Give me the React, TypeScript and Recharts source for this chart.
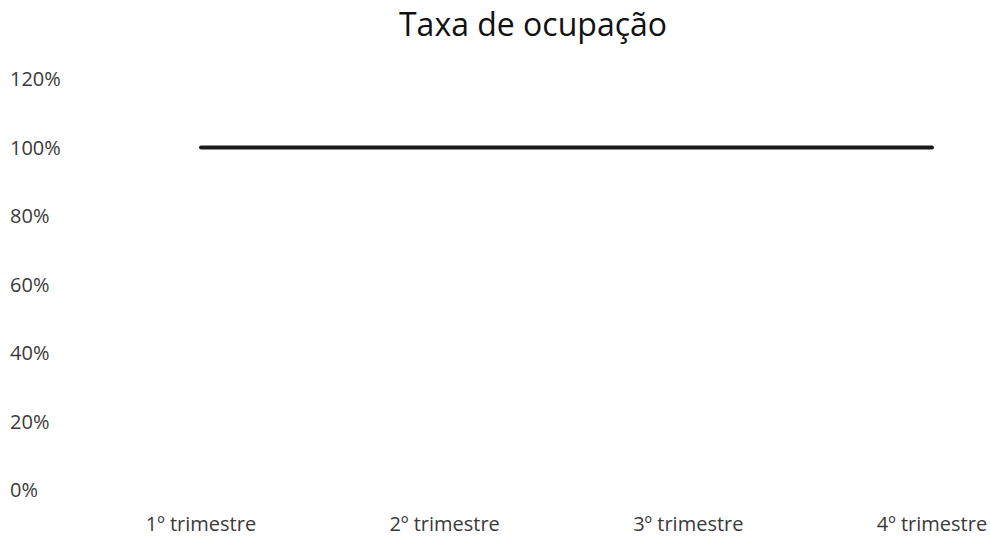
import { Line, LineChart, XAxis, YAxis } from "recharts";

const quarters = ["1º trimestre", "2º trimestre", "3º trimestre", "4º trimestre"];
const occupancy = [100, 100, 100, 100];
const yTicks = [0, 20, 40, 60, 80, 100, 120];

const data = quarters.map((q, i) => ({ name: q, taxa: occupancy[i] }));

const font = "'Open Sans', sans-serif";
const ink = "#3a3a3a";

const YTick = ({ y, payload }: any) => (
  <text x={10} y={y} dy={7} textAnchor="start" fontSize={20} fontFamily={font} fill={ink}>
    {payload.value}%
  </text>
);

const XTick = ({ x, y, payload }: any) => (
  <text x={x} y={y} dy={33} textAnchor="middle" fontSize={20} fontFamily={font} fill={ink}>
    {payload.value}
  </text>
);

export default function App() {
  return (
    <div style={{ position: "absolute", left: 0, top: 0, width: 990, height: 537, background: "#fff" }}>
      <div
        style={{
          position: "absolute",
          left: 0,
          top: 4,
          width: 1066,
          textAlign: "center",
          fontFamily: font,
          fontSize: 32,
          color: "#111",
          lineHeight: "40px",
        }}
      >
        Taxa de ocupação
      </div>
      <LineChart width={990} height={537} data={data} margin={{ top: 79, right: 0, bottom: 0, left: 0 }}>
        <XAxis
          dataKey="name"
          axisLine={false}
          tickLine={false}
          height={47}
          padding={{ left: 121, right: 58 }}
          tick={<XTick />}
          interval={0}
        />
        <YAxis
          domain={[0, 120]}
          ticks={yTicks}
          axisLine={false}
          tickLine={false}
          width={80}
          tick={<YTick />}
          interval={0}
        />
        <Line
          dataKey="taxa"
          stroke="#1a1a1a"
          strokeWidth={4}
          dot={false}
          isAnimationActive={false}
          strokeLinecap="round"
        />
      </LineChart>
    </div>
  );
}
